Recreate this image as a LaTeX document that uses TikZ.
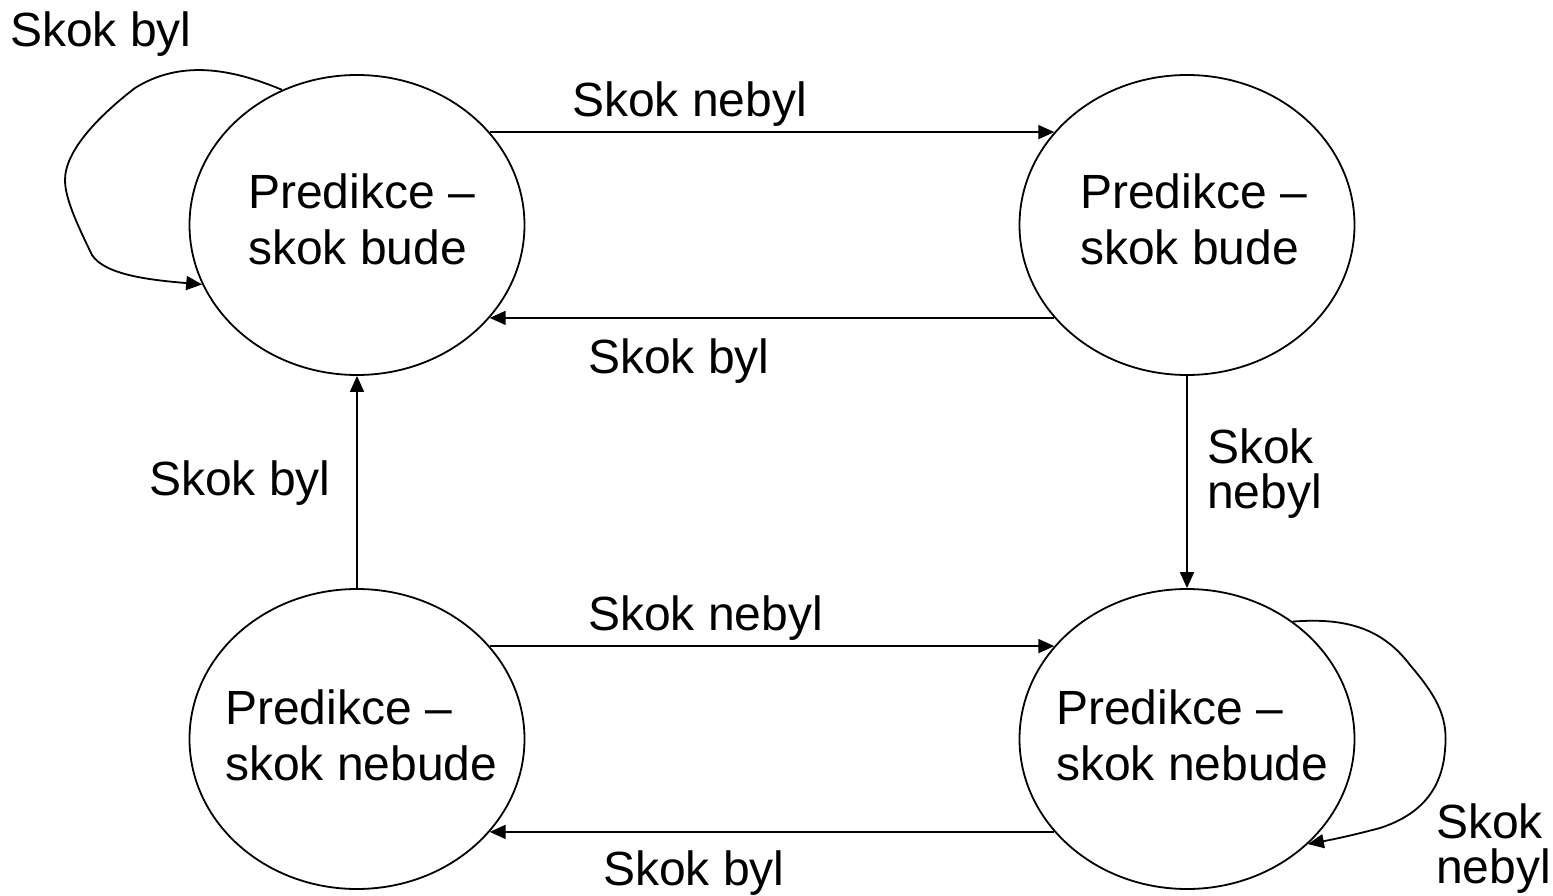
\documentclass[tikz,border=0pt]{standalone}
\usepackage{fontspec}
\setmainfont{Liberation Sans}
\usetikzlibrary{shapes.geometric,arrows.meta}
\begin{document}
\begin{tikzpicture}[x=1pt,y=-1pt,
  state/.style={draw,ellipse,line width=1.8pt,minimum width=335pt,minimum height=300pt,inner sep=0pt},
  arr/.style={-{Triangle[length=16pt,width=14pt]},line width=1.8pt},
  lbl/.style={inner sep=0pt,anchor=base west,font=\fontsize{48}{56}\selectfont},
  stxt/.style={inner sep=0pt,anchor=west,align=left,font=\fontsize{48}{56}\selectfont},
  mlbl/.style={inner sep=0pt,anchor=west,align=left,font=\fontsize{48}{45}\selectfont}]
\useasboundingbox (0,0) rectangle (1553,896);
\node[state] (tl) at (357,225) {};
\node[state] (tr) at (1187,225) {};
\node[state] (bl) at (357,739) {};
\node[state] (br) at (1187,739) {};
\node[stxt] (tlt) at (248,219.5) {Predikce –\\skok bude};
\node[stxt] (trt) at (1080,219.5) {Predikce –\\skok bude};
\node[stxt] (blt) at (225,735.5) {Predikce –\\skok nebude};
\node[stxt] (brt) at (1056,735.5) {Predikce –\\skok nebude};
% connectors
\draw[arr] (tl.35) -- (tr.145);
\draw[arr] (tr.-145) -- (tl.-35);
\draw[arr] (bl.35) -- (br.145);
\draw[arr] (br.-145) -- (bl.-35);
\draw[arr] (bl.north) -- (tl.south);
\draw[arr] (tr.south) -- (br.north);
\draw[arr] (tl.119) .. controls (230,68) and (180,60) .. (135,88)
  .. controls (100,115) and (65,150) .. (65,180)
  .. controls (65,200) and (80,230) .. (92,255)
  .. controls (105,275) and (150,280) .. (tl.201);
\draw[arr] (br.48) .. controls (1340,618) and (1380,625) .. (1410,665)
  .. controls (1440,700) and (1448,720) .. (1445,750)
  .. controls (1442,790) and (1420,815) .. (1380,828)
  .. controls (1350,836) and (1330,840) .. (br.-41);
% labels
\node[lbl] (l1) at (10,47) {Skok byl};
\node[lbl] (l2) at (572,117) {Skok nebyl};
\node[lbl] (l3) at (588,373) {Skok byl};
\node[lbl] (l4) at (149,495) {Skok byl};
\node[mlbl] (l5) at (1207,474) {Skok\\nebyl};
\node[lbl] (l6) at (588,630) {Skok nebyl};
\node[lbl] (l7) at (603,885) {Skok byl};
\node[mlbl] (l8) at (1436,848.5) {Skok\\nebyl};
\end{tikzpicture}
\end{document}
